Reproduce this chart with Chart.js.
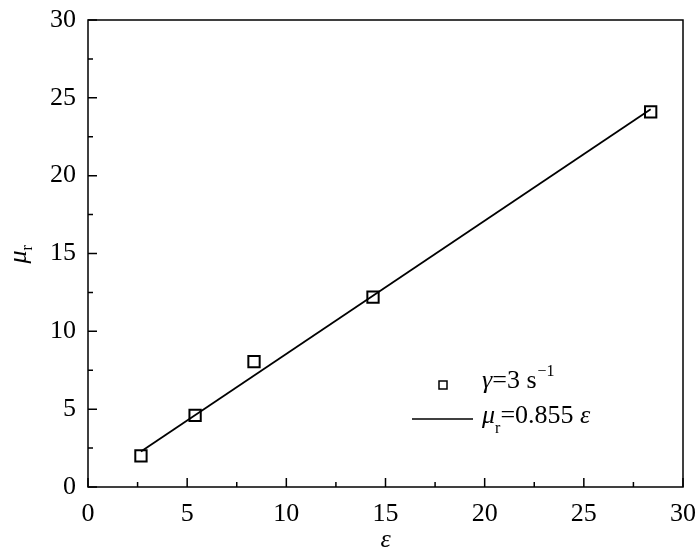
<!DOCTYPE html>
<html>
<head>
<meta charset="utf-8">
<script src="https://cdn.jsdelivr.net/npm/chart.js@4"></script>
<style>
  html, body { margin: 0; padding: 0; background: #fff; }
  #wrap { width: 700px; height: 555px; }
</style>
</head>
<body>
<div id="wrap"><canvas id="grafico" width="700" height="555"></canvas></div>
<script>
// Pontos medidos (epsilon, mu_r)
const epsilon = [2.67, 5.40, 8.37, 14.37, 28.37];
const muR = [2.0, 4.6, 8.05, 12.2, 24.1];
// Reta ajustada mu_r = 0.855 eps (extremos)
const fitEps = [2.67, 28.37];
const fitMu = [2.28, 24.26];
const xTicks = [0, 5, 10, 15, 20, 25, 30];
const yTicks = [0, 5, 10, 15, 20, 25, 30];

const FONT = '"Liberation Serif", "Times New Roman", serif';

// Moldura, ticks para dentro, títulos e legenda
const moldura = {
    id: 'moldura',
    afterDraw(chart) {
        const ctx = chart.ctx;
        const a = chart.chartArea;
        const xs = chart.scales.x, ys = chart.scales.y;
        ctx.save();
        ctx.strokeStyle = '#000';
        ctx.lineWidth = 1.5;
        ctx.strokeRect(a.left, a.top, a.right - a.left, a.bottom - a.top);

        ctx.beginPath();
        for (let v = 0; v <= 30; v += 2.5) {
            const len = (v % 5 === 0) ? 9 : 5;
            const px = xs.getPixelForValue(v);
            ctx.moveTo(px, a.bottom); ctx.lineTo(px, a.bottom - len);
            const py = ys.getPixelForValue(v);
            ctx.moveTo(a.left, py); ctx.lineTo(a.left + len, py);
        }
        ctx.stroke();

        ctx.fillStyle = '#000';
        ctx.textBaseline = 'alphabetic';
        // título eixo x
        ctx.font = 'italic 26px ' + FONT;
        ctx.textAlign = 'center';
        ctx.fillText('ε', (a.left + a.right) / 2, 547);

        // título eixo y
        ctx.save();
        ctx.translate(26, (a.top + a.bottom) / 2);
        ctx.rotate(-Math.PI / 2);
        ctx.textAlign = 'left';
        ctx.font = 'italic 26px ' + FONT;
        ctx.fillText('μ', -10, 0);
        ctx.font = '16px ' + FONT;
        ctx.fillText('r', 3, 6);
        ctx.restore();

        // legenda
        ctx.lineWidth = 1.5;
        ctx.strokeRect(439, 381, 8, 8);
        ctx.beginPath();
        ctx.moveTo(412, 419); ctx.lineTo(473, 419);
        ctx.stroke();

        ctx.textAlign = 'left';
        ctx.font = 'italic 26px ' + FONT;
        ctx.fillText('γ', 482, 388);
        let w = ctx.measureText('γ').width;
        ctx.font = '26px ' + FONT;
        ctx.fillText('=3 s', 482 + w, 388);
        w += ctx.measureText('=3 s').width;
        ctx.font = '16px ' + FONT;
        ctx.fillText('−1', 482 + w + 1, 376);

        ctx.font = 'italic 26px ' + FONT;
        ctx.fillText('μ', 482, 423);
        let w2 = ctx.measureText('μ').width;
        ctx.font = '16px ' + FONT;
        ctx.fillText('r', 482 + w2, 433);
        w2 += ctx.measureText('r').width;
        ctx.font = '26px ' + FONT;
        ctx.fillText('=0.855 ', 482 + w2, 423);
        w2 += ctx.measureText('=0.855 ').width;
        ctx.font = 'italic 26px ' + FONT;
        ctx.fillText('ε', 482 + w2, 423);
        ctx.restore();
    }
};

const ctx = document.getElementById('grafico').getContext('2d');
new Chart(ctx, {
    type: 'scatter',
    data: {
        datasets: [
            {
                label: 'ajuste',
                data: fitEps.map((x, i) => ({ x: x, y: fitMu[i] })),
                showLine: true,
                borderColor: '#000',
                borderWidth: 1.8,
                pointRadius: 0
            },
            {
                label: 'dados',
                data: epsilon.map((x, i) => ({ x: x, y: muR[i] })),
                pointStyle: 'rect',
                pointRadius: 8,
                pointBorderWidth: 2,
                pointBorderColor: '#000',
                pointBackgroundColor: 'rgba(0,0,0,0)'
            }
        ]
    },
    options: {
        responsive: false,
        animation: false,
        layout: { padding: { top: 20, right: 17, left: 0, bottom: 0 } },
        plugins: {
            legend: { display: false },
            tooltip: { enabled: false }
        },
        scales: {
            x: {
                type: 'linear',
                min: 0, max: 30,
                afterFit: s => { s.height = 68; s.paddingLeft = 0; s.paddingRight = 0; },
                afterBuildTicks: s => { s.ticks = xTicks.map(v => ({ value: v })); },
                grid: { display: true, drawOnChartArea: false, drawTicks: false },
                border: { display: false },
                ticks: { padding: 12, color: '#000', font: { family: FONT, size: 26 }, maxRotation: 0 }
            },
            y: {
                type: 'linear',
                min: 0, max: 30,
                afterFit: s => { s.width = 88; s.paddingTop = 0; s.paddingBottom = 0; },
                afterBuildTicks: s => { s.ticks = yTicks.map(v => ({ value: v })); },
                grid: { display: true, drawOnChartArea: false, drawTicks: false },
                border: { display: false },
                ticks: { padding: 12, color: '#000', font: { family: FONT, size: 26 } }
            }
        }
    },
    plugins: [moldura]
});
</script>
</body>
</html>
